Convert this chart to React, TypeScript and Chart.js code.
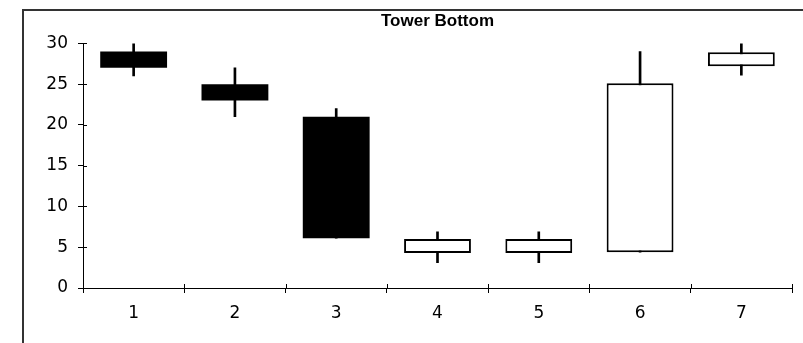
import React, { useEffect, useRef } from 'react';
import { Chart, registerables } from 'chart.js';

Chart.register(...registerables);

const categories = ['1', '2', '3', '4', '5', '6', '7'];
const openValues = [29, 25, 21, 4.3, 4.3, 4.4, 27.2];
const closeValues = [27, 23, 6.1, 6.0, 6.0, 25.1, 28.9];
const highValues = [30, 27, 22, 6.9, 6.9, 29, 30];
const lowValues = [26, 21, 6.1, 3.1, 3.1, 4.4, 26.1];
const yMin = 0;
const yMax = 30;
const yStep = 5;

const crossTicks = {
  id: 'crossTicks',
  afterDraw(chart: any) {
    const { ctx, scales } = chart;
    const x = scales.x;
    const y = scales.y;
    ctx.save();
    ctx.strokeStyle = '#000';
    ctx.lineWidth = 1;
    y.ticks.forEach((_t: any, i: number) => {
      const py = Math.round(y.getPixelForTick(i)) + 0.5;
      ctx.beginPath();
      ctx.moveTo(x.left, py);
      ctx.lineTo(x.left + 4, py);
      ctx.stroke();
    });
    for (let i = 0; i <= categories.length; i++) {
      const px = Math.round(x.getPixelForValue(i - 0.5)) + 0.5;
      ctx.beginPath();
      ctx.moveTo(px, y.bottom - 4);
      ctx.lineTo(px, y.bottom);
      ctx.stroke();
    }
    ctx.restore();
  },
};

export default function App() {
  const ref = useRef<HTMLCanvasElement | null>(null);

  useEffect(() => {
    if (!ref.current) return;
    const isDown = (i: number) => closeValues[i] < openValues[i];
    const chart = new Chart(ref.current, {
      type: 'bar',
      data: {
        labels: categories,
        datasets: [
          {
            label: 'Body',
            data: categories.map((_, i) => [openValues[i], closeValues[i]]) as any,
            backgroundColor: categories.map((_, i) => (isDown(i) ? '#000' : '#fff')),
            borderColor: '#000',
            borderWidth: categories.map((_, i) => (isDown(i) ? 0 : 2)),
            borderSkipped: false,
            barPercentage: 0.66,
            categoryPercentage: 1,
            grouped: false,
            order: 0,
          } as any,
          {
            label: 'Range',
            data: categories.map((_, i) => [lowValues[i], highValues[i]]) as any,
            backgroundColor: '#000',
            borderWidth: 0,
            barThickness: 2,
            grouped: false,
            order: 1,
          } as any,
        ],
      },
      options: {
        animation: false,
        responsive: false,
        layout: { padding: { left: 0, right: 11, top: 0, bottom: 0 } },
        plugins: {
          legend: { display: false },
          tooltip: { enabled: false },
          title: {
            display: true,
            text: 'Tower Bottom',
            fullSize: false,
            color: '#000',
            font: { family: 'Liberation Sans', size: 17, weight: 'bold', lineHeight: 1.2 },
            padding: { top: 11, bottom: 12 },
          },
        },
        scales: {
          x: {
            grid: { drawOnChartArea: false, drawTicks: true, tickLength: 5, color: '#000', offset: true },
            border: { display: true, color: '#000', width: 1 },
            ticks: { color: '#000', font: { family: 'DejaVu Sans', size: 17 }, padding: 10, maxRotation: 0 },
            afterFit: (s: any) => { s.height = 55; },
          },
          y: {
            min: yMin,
            max: yMax,
            grid: { drawOnChartArea: false, drawTicks: true, tickLength: 5, color: '#000' },
            border: { display: true, color: '#000', width: 1 },
            ticks: { stepSize: yStep, color: '#000', font: { family: 'DejaVu Sans', size: 17 }, padding: 10 },
            afterFit: (s: any) => { s.width = 83; },
          },
        },
      },
      plugins: [crossTicks],
    });
    return () => chart.destroy();
  }, []);

  return (
    <div style={{ position: 'absolute', left: 0, top: 0, width: 803, height: 343, overflow: 'hidden', background: '#fff' }}>
      <div
        style={{
          position: 'absolute',
          left: 22,
          top: 9,
          width: 800,
          height: 400,
          borderLeft: '2px solid #333',
          borderTop: '2px solid #333',
        }}
      />
      <canvas ref={ref} width={803} height={343} style={{ position: 'absolute', left: 0, top: 0, display: 'block' }} />
    </div>
  );
}
